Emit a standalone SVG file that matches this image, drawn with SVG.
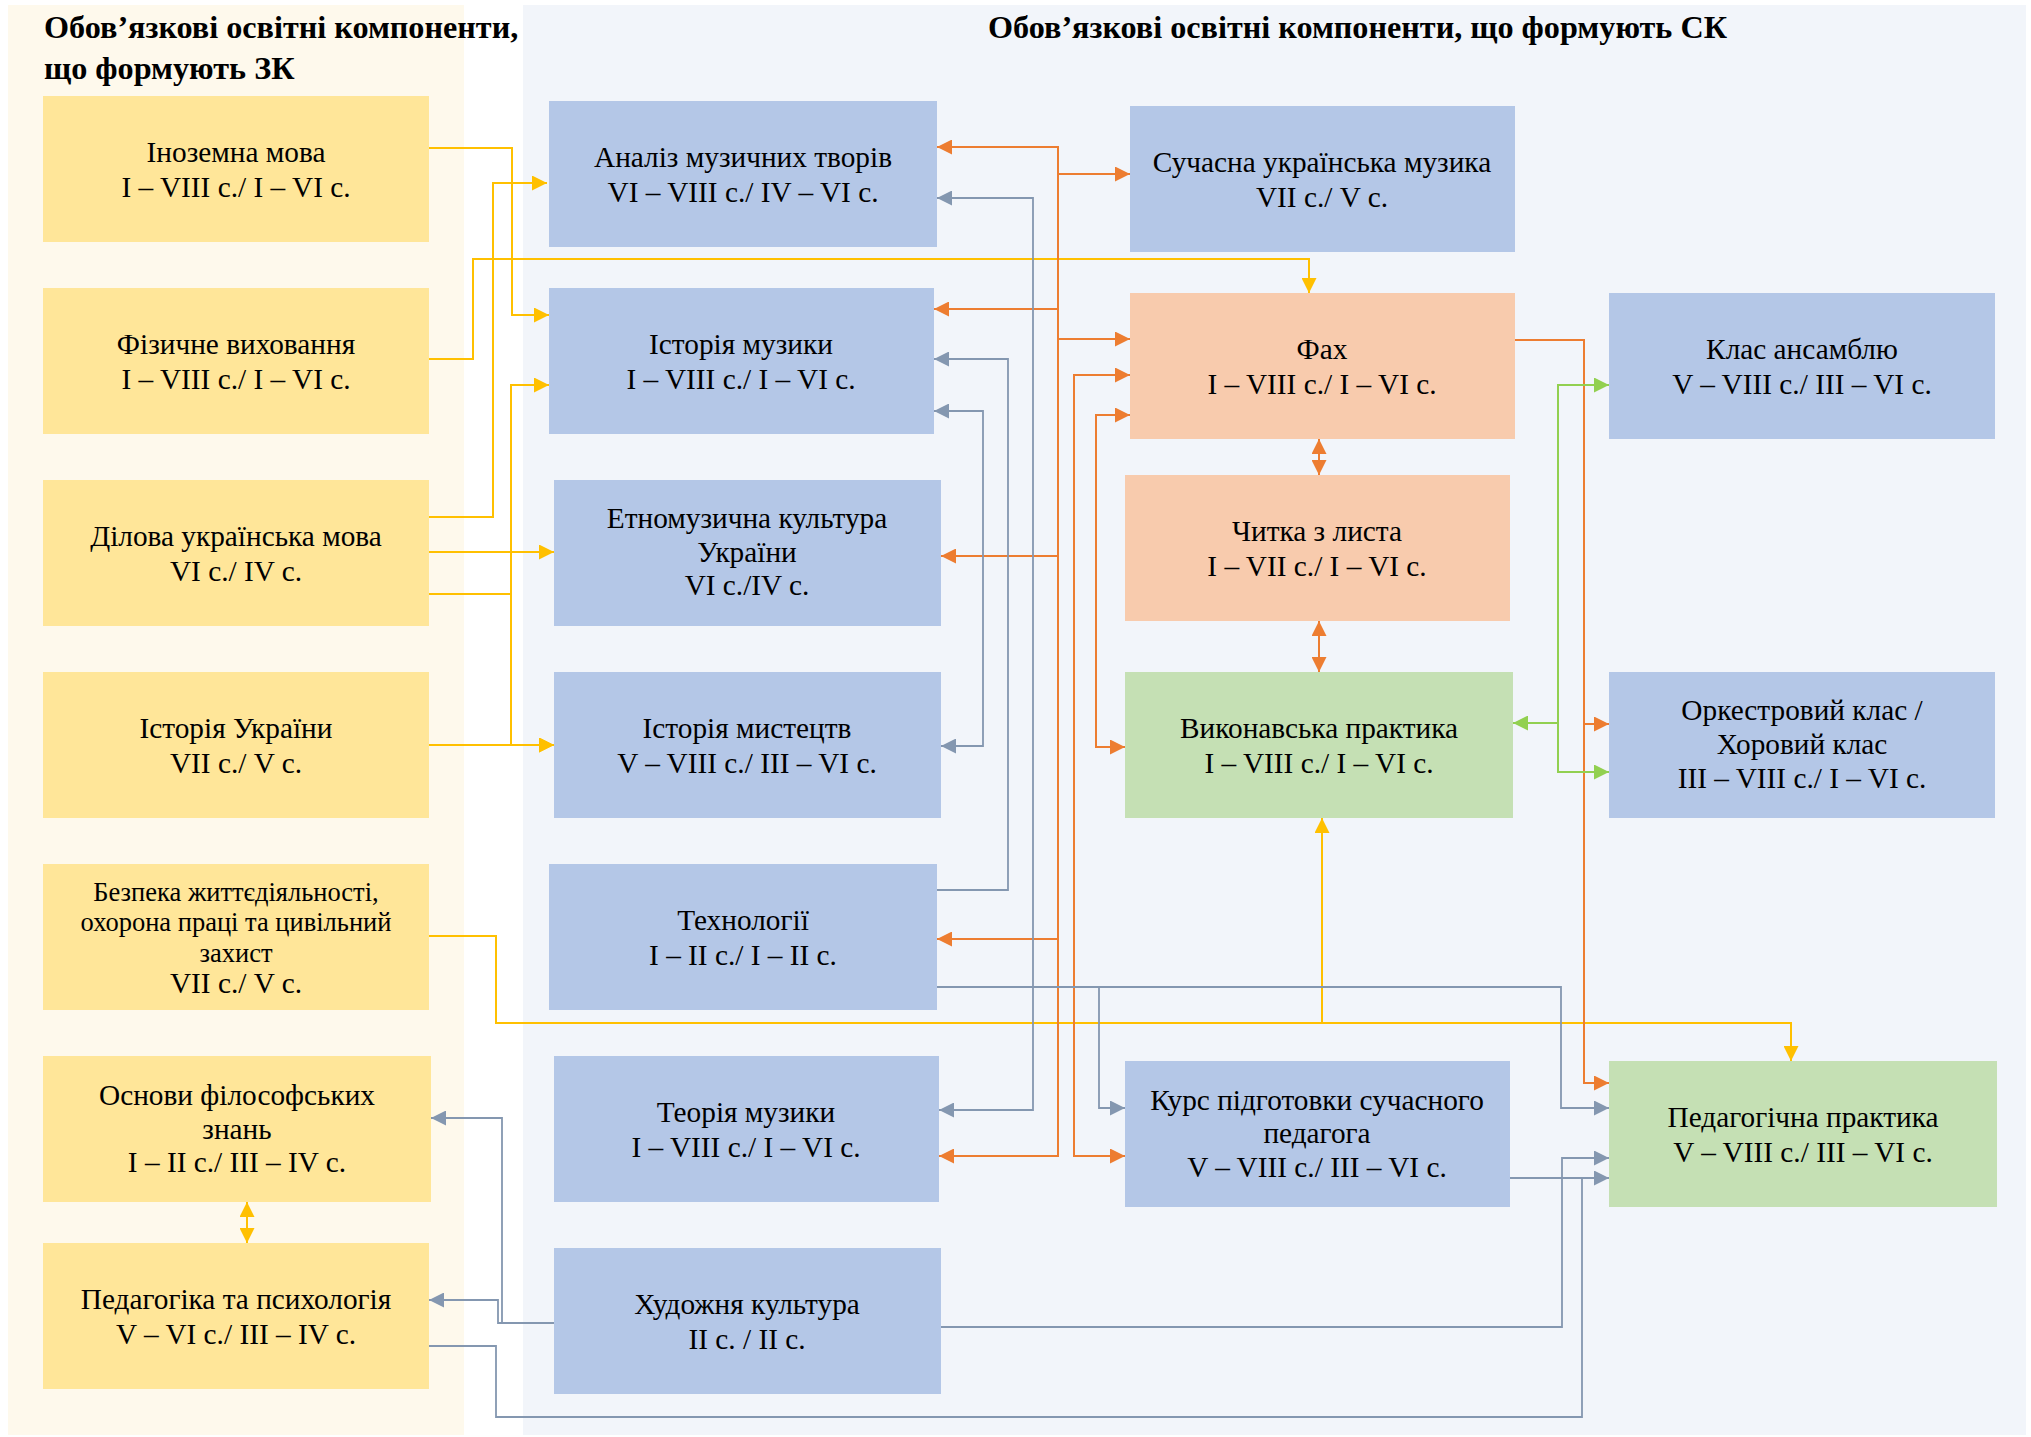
<svg xmlns="http://www.w3.org/2000/svg" width="2031" height="1437" viewBox="0 0 2031 1437">
<style>
.t{font-family:"Liberation Serif","Times New Roman",serif;font-size:29.3px;fill:#000;text-anchor:middle}
.h{font-family:"Liberation Serif","Times New Roman",serif;font-size:32.2px;font-weight:bold;fill:#000}
.y{fill:#FFE699}.b{fill:#B4C7E7}.p{fill:#F8CBAD}.g{fill:#C5E0B4}
.cy{fill:none;stroke:#FFC000;stroke-width:2}
.co{fill:none;stroke:#ED7D31;stroke-width:2}
.cb{fill:none;stroke:#8497B0;stroke-width:1.8}
.cg{fill:none;stroke:#92D050;stroke-width:2}
</style>
<defs>
<marker id="aY" viewBox="0 0 15 15" refX="15" refY="7.5" markerWidth="15" markerHeight="15" markerUnits="userSpaceOnUse" orient="auto-start-reverse"><path d="M0,0 L15,7.5 L0,15 z" fill="#FFC000"/></marker>
<marker id="aO" viewBox="0 0 15 15" refX="15" refY="7.5" markerWidth="15" markerHeight="15" markerUnits="userSpaceOnUse" orient="auto-start-reverse"><path d="M0,0 L15,7.5 L0,15 z" fill="#ED7D31"/></marker>
<marker id="aB" viewBox="0 0 15 15" refX="15" refY="7.5" markerWidth="15" markerHeight="15" markerUnits="userSpaceOnUse" orient="auto-start-reverse"><path d="M0,0 L15,7.5 L0,15 z" fill="#8497B0"/></marker>
<marker id="aG" viewBox="0 0 15 15" refX="15" refY="7.5" markerWidth="15" markerHeight="15" markerUnits="userSpaceOnUse" orient="auto-start-reverse"><path d="M0,0 L15,7.5 L0,15 z" fill="#92D050"/></marker>
</defs>
<rect x="0" y="0" width="2031" height="1437" fill="#FFFFFF"/>
<g id="panels">
<rect x="8" y="5" width="456" height="1430" fill="#FEF9EC"/>
<rect x="523" y="5" width="1503" height="1430" fill="#F2F5FA"/>
</g>
<g id="headings">
<text class="h" x="44" y="38">Обов’язкові освітні компоненти,</text>
<text class="h" x="44" y="79">що формують ЗК</text>
<text class="h" x="988" y="38">Обов’язкові освітні компоненти, що формують СК</text>
</g>

<g id="connectors">
<!-- yellow -->
<path class="cy" d="M429,148 H512 V315 H549" marker-end="url(#aY)"/>
<path class="cy" d="M429,359 H473 V259 H1309 V293" marker-end="url(#aY)"/>
<path class="cy" d="M429,517 H493 V183 H547" marker-end="url(#aY)"/>
<path class="cy" d="M429,552 H554" marker-end="url(#aY)"/>
<path class="cy" d="M429,594 H511 V385 H549" marker-end="url(#aY)"/>
<path class="cy" d="M511,594 V745 H554" marker-end="url(#aY)"/>
<path class="cy" d="M429,745 H554" marker-end="url(#aY)"/>
<path class="cy" d="M429,936 H496 V1023 H1791 V1061" marker-end="url(#aY)"/>
<path class="cy" d="M1322,1023 V818" marker-end="url(#aY)"/>
<path class="cy" d="M247,1202 V1243" marker-start="url(#aY)" marker-end="url(#aY)"/>
<!-- orange -->
<path class="co" d="M1058,339 V147 H937" marker-end="url(#aO)"/>
<path class="co" d="M1058,174 H1130" marker-end="url(#aO)"/>
<path class="co" d="M1058,309 H934" marker-end="url(#aO)"/>
<path class="co" d="M1058,339 H1130" marker-end="url(#aO)"/>
<path class="co" d="M1058,339 V556 H941" marker-end="url(#aO)"/>
<path class="co" d="M1058,556 V939 H937" marker-end="url(#aO)"/>
<path class="co" d="M1058,939 V1156 H939" marker-end="url(#aO)"/>
<path class="co" d="M1130,375 H1074 V1156 H1125" marker-start="url(#aO)" marker-end="url(#aO)"/>
<path class="co" d="M1130,415 H1096 V747 H1125" marker-start="url(#aO)" marker-end="url(#aO)"/>
<path class="co" d="M1515,340 H1584 V724 H1609" marker-end="url(#aO)"/>
<path class="co" d="M1584,724 V1083 H1609" marker-end="url(#aO)"/>
<path class="co" d="M1319,439 V475" marker-start="url(#aO)" marker-end="url(#aO)"/>
<path class="co" d="M1319,621 V672" marker-start="url(#aO)" marker-end="url(#aO)"/>
<!-- green -->
<path class="cg" d="M1558,723 H1513" marker-end="url(#aG)"/>
<path class="cg" d="M1558,723 V385 H1609" marker-end="url(#aG)"/>
<path class="cg" d="M1558,723 V772 H1609" marker-end="url(#aG)"/>
<!-- grey -->
<path class="cb" d="M937,198 H1033 V1110 H939" marker-start="url(#aB)" marker-end="url(#aB)"/>
<path class="cb" d="M937,890 H1008 V359 H934" marker-end="url(#aB)"/>
<path class="cb" d="M934,411 H983 V746 H941" marker-start="url(#aB)" marker-end="url(#aB)"/>
<path class="cb" d="M937,987 H1561 V1108 H1609" marker-end="url(#aB)"/>
<path class="cb" d="M1099,987 V1108 H1125" marker-end="url(#aB)"/>
<path class="cb" d="M1510,1178 H1609" marker-end="url(#aB)"/>
<path class="cb" d="M429,1346 H496 V1417 H1582 V1178"/>
<path class="cb" d="M941,1327 H1562 V1158 H1609" marker-end="url(#aB)"/>
<path class="cb" d="M554,1323 H498 V1300 H429" marker-end="url(#aB)"/>
<path class="cb" d="M502,1323 V1118 H431" marker-end="url(#aB)"/>
</g>

<g id="n-inozemna"><rect class="y" x="43" y="96" width="386" height="146"/><text class="t"><tspan x="236" y="162">Іноземна мова</tspan><tspan x="236" y="197">I – VIII с./ I – VI с.</tspan></text></g>
<g id="n-fizychne"><rect class="y" x="43" y="288" width="386" height="146"/><text class="t"><tspan x="236" y="354">Фізичне виховання</tspan><tspan x="236" y="389">I – VIII с./ I – VI с.</tspan></text></g>
<g id="n-dilova"><rect class="y" x="43" y="480" width="386" height="146"/><text class="t"><tspan x="236" y="546">Ділова українська мова</tspan><tspan x="236" y="581">VI с./ IV с.</tspan></text></g>
<g id="n-istoriia-ukrainy"><rect class="y" x="43" y="672" width="386" height="146"/><text class="t"><tspan x="236" y="738">Історія України</tspan><tspan x="236" y="773">VII с./ V с.</tspan></text></g>
<g id="n-bezpeka"><rect class="y" x="43" y="864" width="386" height="146"/><text class="t" style="font-size:26.5px"><tspan x="236" y="901">Безпека життєдіяльності,</tspan><tspan x="236" y="931">охорона праці та цивільний</tspan><tspan x="236" y="962">захист</tspan></text><text class="t"><tspan x="236" y="993">VII с./ V с.</tspan></text></g>
<g id="n-osnovy"><rect class="y" x="43" y="1056" width="388" height="146"/><text class="t"><tspan x="237" y="1105">Основи філософських</tspan><tspan x="237" y="1139">знань</tspan><tspan x="237" y="1172">I – II с./ III – IV с.</tspan></text></g>
<g id="n-pedahohika"><rect class="y" x="43" y="1243" width="386" height="146"/><text class="t"><tspan x="236" y="1309">Педагогіка та психологія</tspan><tspan x="236" y="1344">V – VI с./ III – IV с.</tspan></text></g>

<g id="n-analiz"><rect class="b" x="549" y="101" width="388" height="146"/><text class="t"><tspan x="743" y="167">Аналіз музичних творів</tspan><tspan x="743" y="202">VI – VIII с./ IV – VI с.</tspan></text></g>
<g id="n-istoriia-muzyky"><rect class="b" x="549" y="288" width="385" height="146"/><text class="t"><tspan x="741" y="354">Історія музики</tspan><tspan x="741" y="389">I – VIII с./ I – VI с.</tspan></text></g>
<g id="n-etno"><rect class="b" x="554" y="480" width="387" height="146"/><text class="t"><tspan x="747" y="528">Етномузична культура</tspan><tspan x="747" y="562">України</tspan><tspan x="747" y="595">VI с./IV с.</tspan></text></g>
<g id="n-mystetstv"><rect class="b" x="554" y="672" width="387" height="146"/><text class="t"><tspan x="747" y="738">Історія мистецтв</tspan><tspan x="747" y="773">V – VIII с./ III – VI с.</tspan></text></g>
<g id="n-tekhnolohii"><rect class="b" x="549" y="864" width="388" height="146"/><text class="t"><tspan x="743" y="930">Технології</tspan><tspan x="743" y="965">I – II с./ I – II с.</tspan></text></g>
<g id="n-teoriia"><rect class="b" x="554" y="1056" width="385" height="146"/><text class="t"><tspan x="746" y="1122">Теорія музики</tspan><tspan x="746" y="1157">I – VIII с./ I – VI с.</tspan></text></g>
<g id="n-khudozhnia"><rect class="b" x="554" y="1248" width="387" height="146"/><text class="t"><tspan x="747" y="1314">Художня культура</tspan><tspan x="747" y="1349">II с. / II с.</tspan></text></g>

<g id="n-suchasna"><rect class="b" x="1130" y="106" width="385" height="146"/><text class="t"><tspan x="1322" y="172">Сучасна українська музика</tspan><tspan x="1322" y="207">VII с./ V с.</tspan></text></g>
<g id="n-fakh"><rect class="p" x="1130" y="293" width="385" height="146"/><text class="t"><tspan x="1322" y="359">Фах</tspan><tspan x="1322" y="394">I – VIII с./ I – VI с.</tspan></text></g>
<g id="n-chytka"><rect class="p" x="1125" y="475" width="385" height="146"/><text class="t"><tspan x="1317" y="541">Читка з листа</tspan><tspan x="1317" y="576">I – VII с./ I – VI с.</tspan></text></g>
<g id="n-vykonavska"><rect class="g" x="1125" y="672" width="388" height="146"/><text class="t"><tspan x="1319" y="738">Виконавська практика</tspan><tspan x="1319" y="773">I – VIII с./ I – VI с.</tspan></text></g>
<g id="n-kurs"><rect class="b" x="1125" y="1061" width="385" height="146"/><text class="t"><tspan x="1317" y="1110">Курс підготовки сучасного</tspan><tspan x="1317" y="1143">педагога</tspan><tspan x="1317" y="1177">V – VIII с./ III – VI с.</tspan></text></g>

<g id="n-ansambl"><rect class="b" x="1609" y="293" width="386" height="146"/><text class="t"><tspan x="1802" y="359">Клас ансамблю</tspan><tspan x="1802" y="394">V – VIII с./ III – VI с.</tspan></text></g>
<g id="n-orkestr"><rect class="b" x="1609" y="672" width="386" height="146"/><text class="t"><tspan x="1802" y="720">Оркестровий клас /</tspan><tspan x="1802" y="754">Хоровий клас</tspan><tspan x="1802" y="788">III – VIII с./ I – VI с.</tspan></text></g>
<g id="n-pedpraktyka"><rect class="g" x="1609" y="1061" width="388" height="146"/><text class="t"><tspan x="1803" y="1127">Педагогічна практика</tspan><tspan x="1803" y="1162">V – VIII с./ III – VI с.</tspan></text></g>
</svg>
